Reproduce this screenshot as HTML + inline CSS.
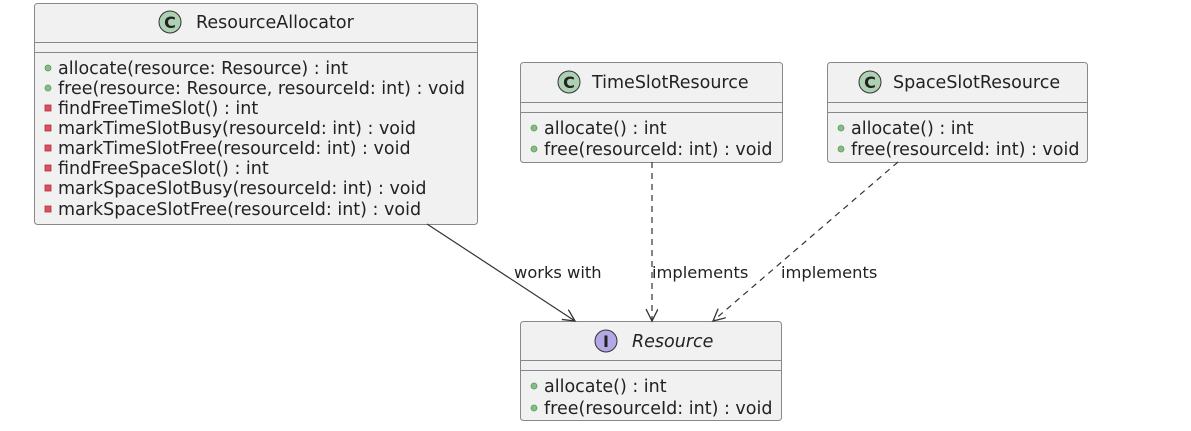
<!DOCTYPE html>
<html><head><style>body{margin:0;background:#fff}svg{display:block}text{font-family:"DejaVu Sans","Liberation Sans",sans-serif;fill:#222}</style></head>
<body>
<svg width="1191" height="431" viewBox="0 0 1191 431" xmlns="http://www.w3.org/2000/svg">
<defs>
<marker id="a" markerWidth="14" markerHeight="14" refX="12" refY="6" orient="auto" markerUnits="userSpaceOnUse"><path d="M0,0 L12,6 L0,12 M12,6" fill="none" stroke="#333" stroke-width="1.3"/></marker>
</defs>
<g stroke="#888" stroke-width="1" fill="#f1f1f1">
<rect x="34.5" y="3.5" width="443" height="221" rx="3"/>
<rect x="520.5" y="62.5" width="262" height="100" rx="3"/>
<rect x="827.5" y="62.5" width="260" height="100" rx="3"/>
<rect x="520.5" y="321.5" width="261" height="99" rx="3"/>
<path d="M34.5 42.5H477.5M34.5 52.5H477.5M520.5 102.5H782.5M520.5 112.5H782.5M827.5 102.5H1087.5M827.5 112.5H1087.5M520.5 360.5H781.5M520.5 370.5H781.5"/>
</g>
<g stroke="#333" stroke-width="1">
<circle cx="170" cy="22" r="11" fill="#add1b2"/>
<circle cx="569" cy="82" r="11" fill="#add1b2"/>
<circle cx="870" cy="82" r="11" fill="#add1b2"/>
<circle cx="606" cy="341" r="11" fill="#b4a7e5"/>
</g>
<g font-size="16" font-weight="bold" text-anchor="middle">
<text x="170" y="28">C</text><text x="569" y="88">C</text><text x="870" y="88">C</text><text x="606" y="347" font-family="Liberation Serif">I</text>
</g>
<g font-size="17.5">
<text x="196" y="28">ResourceAllocator</text>
<text x="592" y="88">TimeSlotResource</text>
<text x="893" y="88">SpaceSlotResource</text>
<text x="632" y="347" font-style="italic">Resource</text>
</g>
<g fill="#84be84" stroke="#5a9a5a" stroke-width="0.8">
<circle cx="48" cy="68" r="3"/><circle cx="48" cy="88" r="3"/>
<circle cx="534" cy="128" r="3"/><circle cx="534" cy="149" r="3"/>
<circle cx="841" cy="128" r="3"/><circle cx="841" cy="149" r="3"/>
<circle cx="534" cy="386" r="3"/><circle cx="534" cy="408" r="3"/>
</g>
<g fill="#d9535f" stroke="#b03040" stroke-width="0.8">
<rect x="45" y="105" width="6" height="6"/><rect x="45" y="125" width="6" height="6"/><rect x="45" y="145" width="6" height="6"/><rect x="45" y="165" width="6" height="6"/><rect x="45" y="185" width="6" height="6"/><rect x="45" y="206" width="6" height="6"/>
</g>
<g font-size="17.5">
<text x="58" y="74">allocate(resource: Resource) : int</text>
<text x="58" y="94">free(resource: Resource, resourceId: int) : void</text>
<text x="58" y="114">findFreeTimeSlot() : int</text>
<text x="58" y="134">markTimeSlotBusy(resourceId: int) : void</text>
<text x="58" y="154">markTimeSlotFree(resourceId: int) : void</text>
<text x="58" y="174">findFreeSpaceSlot() : int</text>
<text x="58" y="194">markSpaceSlotBusy(resourceId: int) : void</text>
<text x="58" y="215">markSpaceSlotFree(resourceId: int) : void</text>
<text x="544" y="134">allocate() : int</text>
<text x="544" y="155">free(resourceId: int) : void</text>
<text x="851" y="134">allocate() : int</text>
<text x="851" y="155">free(resourceId: int) : void</text>
<text x="544" y="392">allocate() : int</text>
<text x="544" y="414">free(resourceId: int) : void</text>
</g>
<g stroke="#333" stroke-width="1.2" fill="none">
<path d="M427 224 L575 321" marker-end="url(#a)"/>
<path d="M652 162 L652 321" stroke-dasharray="6,5" marker-end="url(#a)"/>
<path d="M898 162 L713 321" stroke-dasharray="6,5" marker-end="url(#a)"/>
</g>
<g font-size="16.3">
<text x="514" y="278">works with</text>
<text x="652" y="278">implements</text>
<text x="781" y="278">implements</text>
</g>
</svg>
</body></html>
